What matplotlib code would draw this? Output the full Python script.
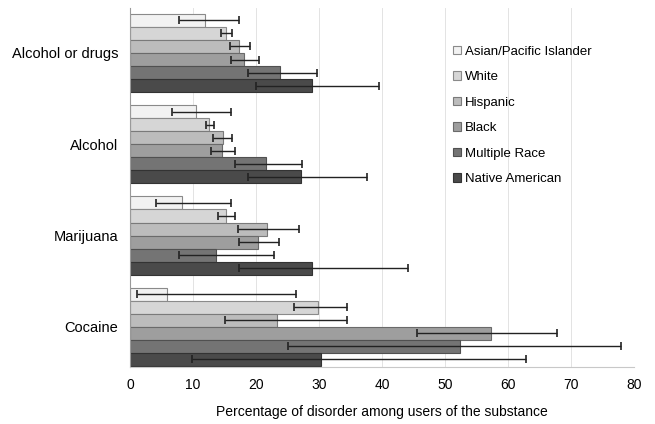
import matplotlib
matplotlib.use("Agg")
import matplotlib.pyplot as plt
import numpy as np

plt.rcParams['font.family'] = ['Liberation Sans', 'DejaVu Sans']

categories = ["Alcohol or drugs", "Alcohol", "Marijuana", "Cocaine"]
groups = ["Asian/Pacific Islander", "White", "Hispanic", "Black",
          "Multiple Race", "Native American"]

# values[group] per category
asian = [11.9, 10.4, 8.3, 5.8]
white = [15.3, 12.6, 15.3, 29.9]
hispanic = [17.3, 14.8, 21.7, 23.4]
black = [18.1, 14.6, 20.3, 57.3]
multiple = [23.8, 21.6, 13.7, 52.4]
native = [28.9, 27.1, 28.9, 30.3]

asian_lo = [7.8, 6.7, 4.1, 1.1]
asian_hi = [17.3, 16.0, 16.0, 26.3]
white_lo = [14.5, 12.0, 13.9, 26.0]
white_hi = [16.2, 13.4, 16.7, 34.4]
hispanic_lo = [15.9, 13.2, 17.1, 15.0]
hispanic_hi = [19.0, 16.2, 26.9, 34.4]
black_lo = [16.1, 12.8, 17.3, 45.6]
black_hi = [20.4, 16.6, 23.7, 67.8]
multiple_lo = [18.8, 16.7, 7.8, 25.1]
multiple_hi = [29.7, 27.3, 22.9, 78.0]
native_lo = [20.0, 18.8, 17.3, 9.8]
native_hi = [39.6, 37.6, 44.1, 62.8]

series = [asian, white, hispanic, black, multiple, native]
lows = [asian_lo, white_lo, hispanic_lo, black_lo, multiple_lo, native_lo]
highs = [asian_hi, white_hi, hispanic_hi, black_hi, multiple_hi, native_hi]
colors = ["#f2f2f2", "#d6d6d6", "#bcbcbc", "#9e9e9e", "#747474", "#4a4a4a"]
edges = ["#8a8a8a", "#8a8a8a", "#7a7a7a", "#6a6a6a", "#505050", "#333333"]

fig = plt.figure(figsize=(6.55, 4.24), dpi=100)
ax = fig.add_axes([130/655, 1-367/424, (634-130)/655, (367-8)/424])

n = len(groups)
step = n + 1
base = np.arange(len(categories)) * step
for j, (vals, lo, hi) in enumerate(zip(series, lows, highs)):
    y = base + j
    vals = np.array(vals)
    xerr = np.vstack([vals - np.array(lo), np.array(hi) - vals])
    ax.barh(y, vals, height=1.0, color=colors[j], edgecolor=edges[j],
            linewidth=0.8, label=groups[j], zorder=2)
    ax.errorbar(vals, y, xerr=xerr, fmt='none', ecolor='#222222',
                elinewidth=1.0, capsize=2.8, capthick=1.2, zorder=3)

ax.set_xlim(0, 80)
ax.set_ylim(base[-1] + n - 0.5 + 0.08, -0.95)
ax.set_yticks(base + (n - 1) / 2)
ax.set_yticklabels(categories, fontsize=10.5)
ax.set_xticks(np.arange(0, 81, 10))
ax.tick_params(axis='x', labelsize=10, length=0, pad=8)
ax.tick_params(axis='y', length=0, pad=8.5)
ax.xaxis.grid(True, color='#e3e3e3', linewidth=0.7, zorder=0)
ax.set_axisbelow(True)
for s in ['top', 'right']:
    ax.spines[s].set_visible(False)
ax.spines['left'].set_color('#9a9a9a')
ax.spines['bottom'].set_color('#c8c8c8')
ax.set_xlabel("Percentage of disorder among users of the substance",
              fontsize=10, labelpad=9.5)

handles, labels = ax.get_legend_handles_labels()
fig.legend(handles, labels, loc='upper left',
           bbox_to_anchor=(441/655, 1-34/424), frameon=False,
           fontsize=9.5, handlelength=0.6, handleheight=0.6,
           handletextpad=0.3, labelspacing=1.02)

fig.savefig("out.png", dpi=100)
